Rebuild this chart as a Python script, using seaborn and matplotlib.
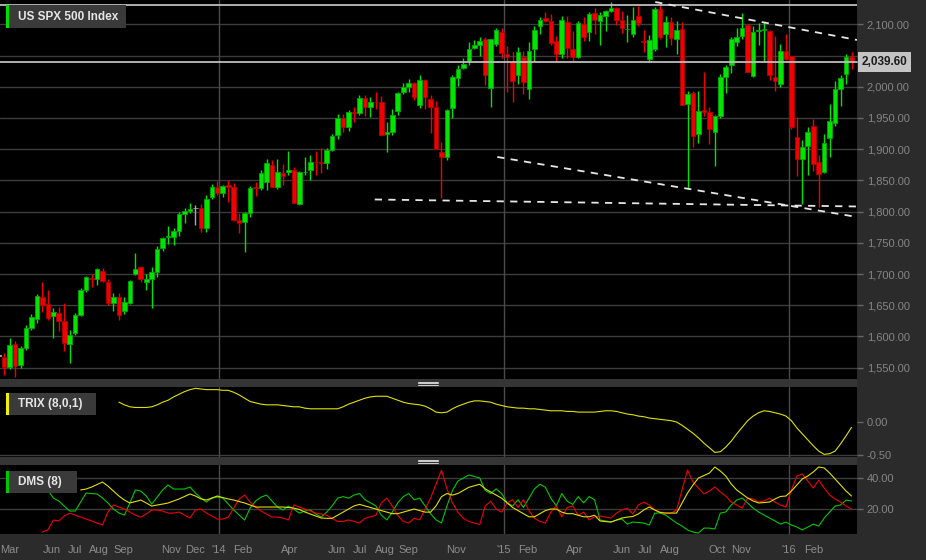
import numpy as np
import pandas as pd
import matplotlib
matplotlib.use('Agg')
import matplotlib.pyplot as plt
import matplotlib.transforms as mtransforms
from matplotlib.patches import Rectangle, Polygon
from matplotlib.lines import Line2D
import seaborn as sns

# ---------------- data (weekly candles, week starting Monday) ----------------
first_week = '2013-03-25'

opens = [1569, 1567, 1551, 1588, 1554, 1581, 1613, 1628, 1663, 1652,
         1632, 1638, 1625, 1588, 1606, 1634, 1674, 1694, 1692, 1705,
         1687, 1653, 1663, 1641, 1653, 1700, 1711, 1688, 1692, 1704,
         1742, 1760, 1759, 1769, 1796, 1801, 1805, 1806, 1774, 1823,
         1840, 1829, 1842, 1839, 1787, 1783, 1797, 1840, 1838, 1847,
         1875, 1839, 1862, 1863, 1867, 1812, 1863, 1867, 1880, 1880,
         1878, 1899, 1922, 1950, 1936, 1960, 1958, 1982, 1967, 1976,
         1976, 1925, 1928, 1961, 1992, 2000, 2006, 1970, 2010, 1980,
         1967, 1896, 1888, 1966, 2014, 2030, 2041, 2062, 2067, 2076,
         1998, 2069, 2088, 2052, 2039, 2019, 2048, 1996, 2060, 2097,
         2110, 2105, 2074, 2053, 2104, 2061, 2048, 2100, 2088, 2118,
         2105, 2113, 2121, 2126, 2107, 2092, 2084, 2113, 2073, 2044,
         2061, 2124, 2084, 2104, 2077, 2092, 1973, 1990, 1924, 1962,
         1959, 1927, 1953, 2015, 2034, 2071, 2081, 2099, 2017, 2090,
         2091, 2090, 2016, 2005, 2058, 2049, 1920, 1884, 1905, 1937,
         1879, 1864, 1918, 1942, 1996, 2020, 2048]
highs = [1571, 1573, 1597, 1593, 1585, 1618, 1636, 1668, 1687, 1674,
         1646, 1648, 1654, 1610, 1637, 1678, 1697, 1700, 1710, 1710,
         1692, 1669, 1670, 1664, 1690, 1734, 1713, 1700, 1711, 1745,
         1760, 1777, 1774, 1799, 1805, 1813, 1810, 1812, 1827, 1845,
         1849, 1843, 1850, 1846, 1798, 1800, 1841, 1847, 1867, 1884,
         1883, 1884, 1876, 1897, 1872, 1865, 1888, 1891, 1897, 1902,
         1902, 1924, 1956, 1956, 1963, 1968, 1986, 1986, 1984, 1991,
         1985, 1943, 1964, 1992, 2006, 2012, 2008, 2019, 2012, 1986,
         1977, 1912, 1965, 2019, 2034, 2046, 2071, 2075, 2079, 2079,
         2077, 2094, 2094, 2065, 2056, 2064, 2058, 2072, 2097, 2111,
         2120, 2117, 2081, 2114, 2114, 2089, 2105, 2111, 2120, 2126,
         2120, 2123, 2135, 2127, 2121, 2115, 2127, 2130, 2091, 2083,
         2128, 2132, 2114, 2112, 2105, 2103, 1993, 1993, 1993, 2023,
         1968, 1955, 2020, 2034, 2080, 2094, 2118, 2100, 2097, 2102,
         2104, 2091, 2081, 2069, 2084, 2050, 1952, 1915, 1935, 1948,
         1890, 1925, 1972, 2009, 2019, 2053, 2056]
lows = [1548, 1539, 1548, 1535, 1550, 1578, 1610, 1621, 1640, 1626,
        1598, 1608, 1576, 1558, 1603, 1633, 1672, 1680, 1683, 1687,
        1650, 1641, 1627, 1636, 1652, 1699, 1687, 1675, 1646, 1695,
        1737, 1748, 1747, 1761, 1781, 1797, 1779, 1767, 1768, 1820,
        1826, 1823, 1815, 1785, 1766, 1735, 1792, 1825, 1834, 1835,
        1839, 1837, 1843, 1858, 1814, 1810, 1859, 1851, 1859, 1862,
        1868, 1897, 1916, 1927, 1929, 1944, 1955, 1953, 1952, 1965,
        1922, 1896, 1922, 1955, 1989, 1991, 1978, 1966, 1965, 1926,
        1900, 1821, 1883, 1950, 2001, 2028, 2035, 2060, 2049, 2002,
        1968, 2066, 2046, 1992, 1975, 2004, 1988, 1981, 2041, 2085,
        2103, 2067, 2040, 2046, 2046, 2040, 2046, 2073, 2073, 2085,
        2067, 2090, 2119, 2099, 2086, 2072, 2079, 2098, 2056, 2040,
        2058, 2077, 2063, 2067, 2052, 1971, 1836, 1903, 1910, 1953,
        1909, 1873, 1950, 1990, 2022, 2066, 2076, 2023, 2015, 2067,
        2040, 2011, 1993, 2000, 2043, 1932, 1857, 1812, 1858, 1865,
        1808, 1862, 1888, 1937, 1969, 2004, 2028]
closes = [1569, 1551, 1586, 1553, 1581, 1613, 1631, 1665, 1650, 1630,
          1640, 1624, 1590, 1602, 1634, 1674, 1695, 1692, 1708, 1689,
          1653, 1663, 1634, 1655, 1689, 1708, 1692, 1692, 1704, 1740,
          1758, 1761, 1769, 1796, 1801, 1804, 1805, 1774, 1820, 1840,
          1830, 1841, 1839, 1787, 1782, 1797, 1838, 1838, 1862, 1878,
          1839, 1864, 1857, 1867, 1814, 1863, 1864, 1880, 1879, 1878,
          1899, 1921, 1950, 1936, 1960, 1958, 1982, 1967, 1976, 1975,
          1923, 1928, 1955, 1990, 2000, 2006, 1984, 2010, 1983, 1968,
          1900, 1888, 1963, 2015, 2028, 2036, 2060, 2067, 2073, 2019,
          2076, 2091, 2054, 2047, 2009, 2055, 2008, 2057, 2091, 2107,
          2106, 2070, 2053, 2107, 2062, 2048, 2102, 2080, 2117, 2107,
          2115, 2121, 2126, 2107, 2094, 2093, 2107, 2102, 2071, 2075,
          2125, 2080, 2104, 2078, 2091, 1971, 1988, 1921, 1961, 1959,
          1932, 1953, 2015, 2031, 2076, 2079, 2094, 2023, 2087, 2091,
          2092, 2018, 2009, 2058, 2044, 1935, 1884, 1903, 1927, 1876,
          1860, 1910, 1945, 1996, 2014, 2048, 2039.6]

last_price = 2039.60
top_level = 2131

# hand drawn trend lines: (week index, price) end points
resist_x, resist_y = [120.1, 157.0], [2135.7, 2074.9]
channel_x, channel_y = [91.2, 157.0], [1887.5, 1791.4]
support_x, support_y = [68.8, 157.0], [1819.4, 1808.2]

# TRIX (8,0,1), first value at week 22
trix_start = 22
trix = [0.30, 0.26, 0.23, 0.22, 0.22, 0.22, 0.23, 0.26, 0.30, 0.33,
        0.38, 0.42, 0.46, 0.49, 0.51, 0.50, 0.49, 0.49, 0.49, 0.48,
        0.48, 0.45, 0.41, 0.36, 0.31, 0.29, 0.27, 0.26, 0.26, 0.26,
        0.25, 0.24, 0.23, 0.23, 0.21, 0.20, 0.20, 0.20, 0.20, 0.20,
        0.20, 0.23, 0.27, 0.30, 0.33, 0.36, 0.38, 0.39, 0.39, 0.39,
        0.36, 0.33, 0.30, 0.28, 0.27, 0.26, 0.24, 0.20, 0.15, 0.14,
        0.15, 0.20, 0.24, 0.27, 0.30, 0.32, 0.32, 0.31, 0.30, 0.27,
        0.25, 0.23, 0.22, 0.21, 0.21, 0.20, 0.20, 0.19, 0.18, 0.17,
        0.17, 0.17, 0.16, 0.16, 0.15, 0.15, 0.15, 0.15, 0.16, 0.17,
        0.17, 0.16, 0.14, 0.12, 0.11, 0.09, 0.08, 0.06, 0.05, 0.04,
        0.03, 0.02, 0.00, -0.05, -0.11, -0.17, -0.24, -0.32, -0.39, -0.46,
        -0.45, -0.38, -0.29, -0.18, -0.08, 0.02, 0.09, 0.14, 0.17, 0.16,
        0.14, 0.12, 0.09, 0.02, -0.09, -0.18, -0.27, -0.36, -0.44, -0.49,
        -0.48, -0.44, -0.33, -0.21, -0.08]

# DMS (8): +DI green from week 9, -DI red from week 8, ADX yellow from week 15
plus_start = 9
plus_di = [32.3, 27.1, 25.2, 21.9, 18.7, 18.7, 24.5, 30.3, 30.0, 29.7,
           27.1, 23.9, 20.0, 17.4, 16.1, 23.9, 32.3, 31.6, 28.4, 23.2,
           27.7, 32.3, 35.5, 32.9, 32.9, 32.9, 34.2, 30.3, 27.1, 24.5,
           27.1, 27.7, 27.1, 23.2, 19.4, 16.1, 12.9, 20.6, 25.2, 27.7,
           29.0, 25.2, 21.3, 19.4, 21.9, 20.0, 17.4, 18.7, 19.4, 16.8,
           14.8, 18, 22, 27, 28, 27, 29, 30, 26, 24,
           22, 16, 13, 18, 24, 28, 30, 26, 27, 22,
           17, 13, 11, 22, 32, 38, 40, 42, 41, 40,
           32, 30, 33, 30, 24, 22, 26, 21, 27, 33,
           36, 34, 27, 22, 30, 25, 23, 28, 24, 28,
           26, 12.9, 12.3, 11.6, 12.9, 13.5, 10.3, 11.6, 11.3, 11.0,
           9.7, 17.4, 17.4, 16.1, 13.5, 11.0, 9.0, 6.5, 5.2, 4.5,
           7.7, 7.7, 7.1, 17.4, 18.1, 22.6, 25.8, 27.1, 23.9, 20.6,
           18.1, 16.1, 14.2, 12.3, 10.3, 11.6, 9.7, 8.4, 6.5, 8.4,
           10.3, 9.0, 14.2, 18.1, 21.9, 22.6, 25.8, 25.2]
minus_start = 8
minus_di = [5.2, 6.5, 12.9, 12.3, 15.5, 17.4, 16.1, 14.8, 13.5, 12.3,
            11.0, 9.7, 18.1, 22.6, 21.3, 20.0, 18.1, 16.1, 14.8, 16.8,
            19.4, 19.4, 18.7, 17.4, 17.4, 18.1, 16.1, 14.2, 19.4, 20.0,
            17.4, 15.5, 13.5, 13.5, 14.8, 20.6, 26.5, 29.0, 24.5, 21.3,
            18.7, 16.8, 14.8, 14.8, 14.2, 12.9, 22.6, 21.3, 20.0, 18.7,
            17.4, 16.8, 16, 14, 12, 12, 13, 12, 11, 14,
            15, 16, 24, 27, 22, 16, 12, 11, 14, 13,
            20, 27, 36, 45, 33, 24, 18, 14, 12, 11,
            10, 22, 25, 20, 18, 24, 26, 21, 26, 19,
            14, 12, 11, 18, 22, 15, 21, 22, 16, 18,
            13, 15, 15.5, 14.8, 14.2, 17.4, 19.4, 20.6, 16.8, 22.6,
            24.5, 22.6, 19.4, 18.1, 17.4, 17.4, 19.4, 32.3, 45.2, 37.4,
            33.5, 29.7, 31.6, 34.2, 31.0, 28.4, 24.5, 22.6, 20.6, 27.1,
            26.5, 24.5, 25.2, 27.1, 24.5, 22.6, 21.3, 32.3, 41.3, 42.6,
            38.1, 33.5, 38.7, 33.5, 29.0, 26.5, 24.5, 21.9, 20.0]
adx_start = 15
adx = [32.3, 32.9, 34.2, 35.8, 37.4, 34.8, 31.6, 28.4, 25.8, 23.9,
       24.8, 25.8, 23.9, 21.9, 22.6, 23.2, 23.9, 25.2, 26.5, 28.1,
       29.7, 28.4, 26.5, 25.8, 27.1, 28.4, 27.4, 26.5, 25.8, 24.8,
       23.9, 22.6, 21.3, 21.3, 21.3, 21.3, 21.3, 21.3, 21.0, 20.6,
       19.7, 18.1, 16.8, 15.5, 14.2, 14, 14, 16, 18, 20,
       22, 23, 22, 21, 20, 19, 18, 17, 17, 18,
       19, 20, 19, 18, 18, 22, 28, 30, 29, 30,
       32, 34, 35, 36, 33, 31, 29, 27, 24, 21,
       19, 17, 15, 15, 17, 19, 20, 20, 18, 17,
       17, 16, 15, 15, 16, 12.3, 11.9, 11.6, 12.9, 14.2,
       14.8, 15.2, 16.8, 19.4, 21.3, 19.4, 17.7, 17.4, 17.4, 17.4,
       23.9, 30.3, 35.5, 40.0, 41.6, 43.2, 47.1, 44.5, 41.3, 36.1,
       32.3, 29.7, 27.1, 25.2, 23.9, 24.2, 24.5, 26.5, 28.1, 28.4,
       31.6, 35.5, 39.4, 41.3, 43.9, 47.1, 46.5, 43.2, 39.4, 35.5,
       31.6, 28.4]

month_labels = ['Mar', 'Jun', 'Jul', 'Aug', 'Sep', 'Nov', 'Dec', "'14", 'Feb', 'Apr',
                'Jun', 'Jul', 'Aug', 'Sep', 'Nov', "'15", 'Feb', 'Apr', 'Jun', 'Jul',
                'Aug', 'Oct', 'Nov', "'16", 'Feb']
month_dates = ['2013-03-01', '2013-06-01', '2013-07-01', '2013-08-01', '2013-09-01',
               '2013-11-01', '2013-12-01', '2014-01-01', '2014-02-01', '2014-04-01',
               '2014-06-01', '2014-07-01', '2014-08-01', '2014-09-01', '2014-11-01',
               '2015-01-01', '2015-02-01', '2015-04-01', '2015-06-01', '2015-07-01',
               '2015-08-01', '2015-10-01', '2015-11-01', '2016-01-01', '2016-02-01']
year_dates = ['2014-01-01', '2015-01-01', '2016-01-01']

# ---------------- styling ----------------
sns.set_style('dark', rc={'axes.facecolor': 'black', 'figure.facecolor': '#2b2b2b',
                          'axes.edgecolor': 'black', 'grid.color': '#3a3a3a'})
plt.rcParams['font.family'] = ['Liberation Sans', 'DejaVu Sans']

W, H = 926, 560
fig = plt.figure(figsize=(W / 100, H / 100), dpi=100, facecolor='#2b2b2b')


def box(x0, y0, x1, y1):
    return [x0 / W, 1 - y1 / H, (x1 - x0) / W, (y1 - y0) / H]


ax = fig.add_axes(box(0, 0, 857, 379))
ax_t = fig.add_axes(box(0, 387, 857, 457), sharex=ax)
ax_d = fig.add_axes(box(0, 465, 857, 534), sharex=ax)

n = len(closes)
idx = np.arange(n)
start = pd.Timestamp(first_week)
O, Hh, L, C = map(np.asarray, (opens, highs, lows, closes))

GREEN, GREEN_E = '#00e400', '#00a800'
RED, RED_E = '#f00000', '#b00000'
GRAY = '#a8a8a8'
col = np.where(C > O, GREEN, np.where(C < O, RED, GRAY))
ecol = np.where(C > O, GREEN_E, np.where(C < O, RED_E, GRAY))

# ---- main candle panel ----
ax.vlines(idx, L, Hh, colors=col, lw=1.0, zorder=3)
ax.bar(idx, np.maximum(np.abs(C - O), 0.8), bottom=np.minimum(O, C), width=0.84,
       color=col, edgecolor=ecol, lw=0.6, zorder=4)

ax.set_ylim(1531.9, 2138.9)
ax.set_xlim(0.25, 157.0)
ax.set_yticks(np.arange(1550, 2101, 50))
ax.yaxis.tick_right()
ax.yaxis.set_major_formatter(plt.FuncFormatter(lambda v, p: f'{v:,.2f}'))
ax.grid(axis='y', color='#3c3c3c', lw=1.0)
ax.grid(axis='x', visible=False)

ax.axhline(top_level, color='#bdbdbd', lw=1.3, zorder=5)
ax.axhline(last_price, color='#bdbdbd', lw=1.3, zorder=5)
for xs, ys in ((resist_x, resist_y), (channel_x, channel_y), (support_x, support_y)):
    ax.plot(xs, ys, color='#e6e6e6', lw=1.3, ls=(0, (4, 3.5)), zorder=6)

# ---- TRIX panel ----
trix_df = pd.DataFrame({'week': idx[trix_start:trix_start + len(trix)], 'trix': trix})
sns.lineplot(data=trix_df, x='week', y='trix', ax=ax_t, color='#e0e000', lw=0.8)
ax_t.set_ylim(-0.53, 0.53)
ax_t.set_yticks([0.0, -0.5])
ax_t.set_yticklabels(['0.00', '-0.50'])
ax_t.yaxis.tick_right()
ax_t.grid(False)
ax_t.axhline(-0.5, color='#3c3c3c', lw=1.0, zorder=0)

# ---- DMS panel ----
def pad(vals, s):
    out = np.full(n, np.nan)
    out[s:s + len(vals)] = vals
    return out


dms_df = pd.DataFrame({'week': idx, 'plus': pad(plus_di, plus_start),
                       'minus': pad(minus_di, minus_start), 'adx': pad(adx, adx_start)})
sns.lineplot(data=dms_df, x='week', y='plus', ax=ax_d, color='#00c800', lw=0.8)
sns.lineplot(data=dms_df, x='week', y='minus', ax=ax_d, color='#f00000', lw=0.8)
sns.lineplot(data=dms_df, x='week', y='adx', ax=ax_d, color='#e0e000', lw=0.8)
ax_d.set_ylim(3.9, 48.4)
ax_d.set_yticks([20, 40])
ax_d.set_yticklabels(['20.00', '40.00'])
ax_d.yaxis.tick_right()
ax_d.grid(axis='y', color='#3c3c3c', lw=1.0)

# week position of a calendar date
def wpos(d):
    return (pd.Timestamp(d) - start).days / 7.0


tick_pos = [max(wpos(d), 0.25) for d in month_dates]
ax_d.set_xticks(tick_pos)
ax_d.set_xticklabels(month_labels)
ax_d.get_xticklabels()[0].set_horizontalalignment('left')
ax_d.tick_params(axis='x', direction='in', length=3, width=1, color='#555555',
                 labelcolor='#8c8c8c', labelsize=8, pad=8)

for a in (ax, ax_t, ax_d):
    a.set_xlabel('')
    a.set_ylabel('')
    for s in a.spines.values():
        s.set_visible(False)
    a.tick_params(axis='y', which='both', right=True, left=False, length=4, width=1,
                  color='#666666', labelcolor='#858585', labelsize=8, pad=3)
    for yd in year_dates:
        a.axvline(wpos(yd), color='#4a4a4a', lw=1.0, zorder=1)
for a in (ax, ax_t):
    a.tick_params(axis='x', bottom=False, labelbottom=False)

# ---- separators and handles ----
for y0 in (379, 457):
    fig.add_artist(Rectangle((0, 1 - (y0 + 8) / H), 857 / W, 8 / H, transform=fig.transFigure,
                             facecolor='#353535', edgecolor='none'))
    for k in range(3):
        yy = 1 - (y0 + 2.5 + k * 1.7) / H
        fig.add_artist(Line2D([418 / W, 438 / W], [yy, yy], transform=fig.transFigure,
                              color='#d0d0d0', lw=0.7))

# ---- panel labels ----
def label_box(x0, y0, x1, y1, text, bar_color):
    fig.add_artist(Rectangle((x0 / W, 1 - y1 / H), (x1 - x0) / W, (y1 - y0) / H,
                             transform=fig.transFigure, facecolor='#3a3a3a', edgecolor='none'))
    fig.add_artist(Rectangle((x0 / W, 1 - y1 / H), 3 / W, (y1 - y0) / H,
                             transform=fig.transFigure, facecolor=bar_color, edgecolor='none'))
    fig.text((x0 + 12) / W, 1 - (y0 + y1) / 2 / H, text, color='#e6e6e6', fontsize=8.5,
             fontweight='bold', va='center', ha='left')


label_box(6, 5, 126, 28, 'US SPX 500 Index', '#00e000')
label_box(6, 393, 96, 415, 'TRIX (8,0,1)', '#f0f000')
label_box(6, 471, 77, 493, 'DMS (8)', '#00c800')

# ---- last price tag ----
tr = mtransforms.blended_transform_factory(ax.transAxes, ax.transData)
ax.text(1.0055, last_price, f'{last_price:,.2f}', transform=tr, color='#1c1c1c', fontsize=8.5,
        fontweight='bold', va='center', ha='left', zorder=10, clip_on=False,
        bbox=dict(boxstyle='square,pad=0.3', facecolor='#c4c4c4', edgecolor='none'))
tag_y = 1 - 62 / H
fig.add_artist(Polygon([[857 / W, tag_y], [861 / W, tag_y + 4 / H], [861 / W, tag_y - 4 / H]],
                       closed=True, transform=fig.transFigure, facecolor='#c4c4c4',
                       edgecolor='none', zorder=10))

fig.savefig('out.png', dpi=100, facecolor=fig.get_facecolor())
